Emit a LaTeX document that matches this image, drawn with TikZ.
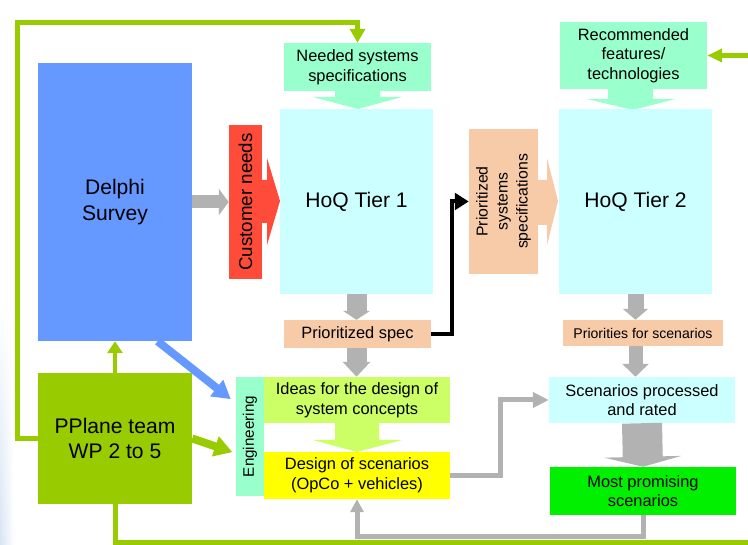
\documentclass[tikz,border=0pt]{standalone}
\usepackage{fontspec}
\setmainfont{Liberation Sans}
\usetikzlibrary{arrows.meta,fadings}

\definecolor{leaf}{HTML}{99CC00}
\definecolor{sky}{HTML}{6699FF}
\definecolor{tomato}{HTML}{FF4B3A}
\definecolor{mint}{HTML}{99FFCC}
\definecolor{ice}{HTML}{CCFFFF}
\definecolor{peach}{HTML}{F7CAA8}
\definecolor{lime}{HTML}{CCFF66}
\definecolor{lemon}{HTML}{FFFF00}
\definecolor{neon}{HTML}{00F000}
\definecolor{ash}{HTML}{B2B2B2}
\definecolor{haze}{HTML}{D8E4F4}

\newcommand{\pxu}{0.03cm}

\begin{document}
\begin{tikzpicture}[x=0.03cm,y=-0.03cm]
  \tikzset{BoxStyle/.style = {shape=rectangle,inner sep=0pt,align=center,text=black},
           TxtStyle/.style = {font=\fontsize{14}{16.8}\selectfont},
           BigStyle/.style = {font=\fontsize{18}{21.5}\selectfont},
           GrayStyle/.style = {draw=ash},
           LeafStyle/.style = {draw=leaf}}
\useasboundingbox (0,0) rectangle (748,545);
\shade[left color=haze,right color=white,path fading=north] (0,300) rectangle (14,545);
%
\node[BoxStyle,BigStyle,fill=sky,minimum width=154*\pxu,minimum height=278*\pxu] (delphi) at (115,202) {Delphi\\Survey};
\node[BoxStyle,BigStyle,fill=leaf,minimum width=154*\pxu,minimum height=131*\pxu] (pplane) at (115,438.5) {PPlane team\\WP 2 to 5};
\node[BoxStyle,fill=tomato,rotate=90,minimum width=154*\pxu,minimum height=33*\pxu,font=\fontsize{16}{19}\selectfont] (custneeds) at (245.5,202) {Customer needs};
\fill[tomato] (262,180) -- (267,180) -- (267,158) -- (280,201) -- (267,245) -- (267,223) -- (262,223) -- cycle;
\node[BoxStyle,TxtStyle,fill=mint,minimum width=147*\pxu,minimum height=48*\pxu] (needspec) at (357.5,67) {Needed systems\\specifications};
\fill[mint] (335,90) -- (380,90) -- (380,97) -- (402,97) -- (358,109) -- (313,97) -- (335,97) -- cycle;
\node[BoxStyle,BigStyle,fill=ice,minimum width=153*\pxu,minimum height=185*\pxu] (hoqone) at (356.5,201.5) {HoQ Tier 1};
\node[BoxStyle,TxtStyle,fill=peach,minimum width=147*\pxu,minimum height=28*\pxu] (priospec) at (357.5,334) {Prioritized spec};
\node[BoxStyle,fill=peach,rotate=90,minimum width=145*\pxu,minimum height=69*\pxu,font=\fontsize{13.5}{17}\selectfont] (priosys) at (503.5,201.5) {Prioritized\\systems\\specifications};
\fill[peach] (538,180) -- (547,180) -- (547,158) -- (558,201) -- (547,245) -- (547,225) -- (538,225) -- cycle;
\node[BoxStyle,TxtStyle,fill=mint,minimum width=147*\pxu,minimum height=67*\pxu] (recfeat) at (633.5,55.5) {Recommended\\features/\\technologies};
\fill[mint] (608,88) -- (653,88) -- (653,99) -- (675,99) -- (633,110) -- (587,99) -- (608,99) -- cycle;
\node[BoxStyle,BigStyle,fill=ice,minimum width=153*\pxu,minimum height=185*\pxu] (hoqtwo) at (635.5,201.5) {HoQ Tier 2};
\node[BoxStyle,fill=peach,minimum width=160*\pxu,minimum height=26*\pxu,font=\fontsize{12}{14}\selectfont] (priosc) at (643,333) {Priorities for scenarios};
\node[BoxStyle,fill=mint,rotate=90,minimum width=119*\pxu,minimum height=28*\pxu,font=\fontsize{13}{15}\selectfont] (engin) at (250,436.5) {Engineering};
\node[BoxStyle,TxtStyle,fill=lime,minimum width=186*\pxu,minimum height=46*\pxu] (ideas) at (357,400) {Ideas for the design of\\system concepts};
\fill[lime] (335,422) -- (379,422) -- (379,440) -- (402,440) -- (357,452) -- (313,440) -- (335,440) -- cycle;
\node[BoxStyle,TxtStyle,fill=lemon,minimum width=186*\pxu,minimum height=47*\pxu] (design) at (357,475.5) {Design of scenarios\\(OpCo + vehicles)};
\node[BoxStyle,TxtStyle,fill=ice,minimum width=186*\pxu,minimum height=46*\pxu] (scproc) at (642,400) {Scenarios processed\\and rated};
\node[BoxStyle,TxtStyle,fill=neon,minimum width=186*\pxu,minimum height=48*\pxu] (promising) at (643,491) {Most promising\\scenarios};
%
\draw[GrayStyle,line width=13*\pxu,-{Triangle[width=.78cm,length=.3cm]}] (delphi.east) -- (custneeds.north);
\draw[GrayStyle,line width=20*\pxu,-{Triangle[width=.81cm,length=.27cm]}] (hoqone.south) -- (hoqone.south |- priospec.north);
\draw[GrayStyle,line width=20*\pxu,-{Triangle[width=.81cm,length=.45cm]}] (hoqone.south |- priospec.south) -- (hoqone.south |- ideas.north);
\draw[GrayStyle,line width=16*\pxu,-{Triangle[width=.75cm,length=.33cm]}] (hoqtwo.south) -- (hoqtwo.south |- priosc.north);
\draw[GrayStyle,line width=14*\pxu,-{Triangle[width=.78cm,length=.39cm]}] (hoqtwo.south |- priosc.south) -- (hoqtwo.south |- scproc.north);
\draw[GrayStyle,line width=40*\pxu,-{Triangle[width=2.31cm,length=.3cm]}] (scproc.south) -- (promising.north);
\draw[GrayStyle,line width=5*\pxu,-{Triangle[width=.45cm,length=.48cm]}] (design.east) -- ++(50,0) |- (scproc.west);
\draw[GrayStyle,line width=5*\pxu,-{Triangle[width=.39cm,length=.39cm]}] (promising.south) -- ++(0,21) -| (design.south);
\draw[line width=4*\pxu,-{Triangle[width=.5cm,length=.42cm]}] (priospec.east) -- ++(21,0) |- (priosys.north);
%
\draw[draw=sky,line width=8*\pxu,-{Triangle[width=.6cm,length=.54cm]}] (delphi.-73) -- ([xshift=-.15cm,yshift=1.12cm]engin.north);
\draw[LeafStyle,line width=8*\pxu,-{Triangle[width=.6cm,length=.54cm]}] (pplane.east) -- ([xshift=-.1cm,yshift=-.47cm]engin.north);
\draw[LeafStyle,line width=4.5*\pxu,-{Triangle[width=.45cm,length=.36cm]}] (pplane.north) -- (delphi.south);
\draw[LeafStyle,line width=5*\pxu,-{Triangle[width=.45cm,length=.42cm]}] (pplane.west) -| (17.5,22.5) -| (needspec.north);
\draw[LeafStyle,line width=5*\pxu,-{Triangle[width=.39cm,length=.45cm]}] (pplane.south) |- (760,543) |- (recfeat.east);
\end{tikzpicture}
\end{document}
